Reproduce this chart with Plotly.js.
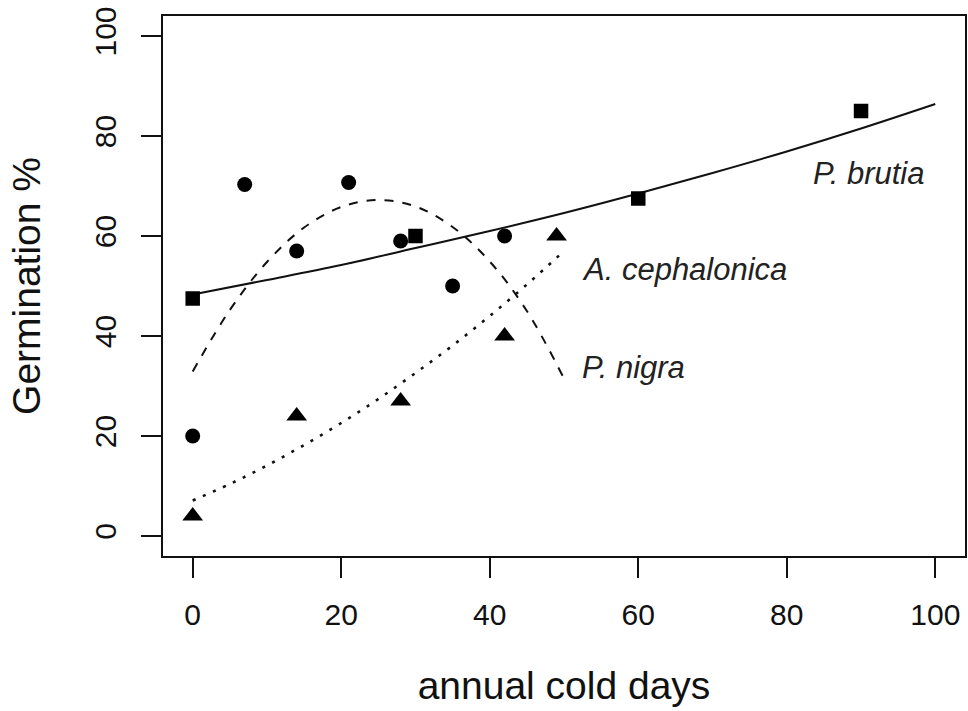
<!DOCTYPE html>
<html>
<head>
<meta charset="utf-8">
<script src="https://cdn.plot.ly/plotly-3.0.1.min.js"></script>
<style>html,body{margin:0;padding:0;background:#fff;}#chart{width:968px;height:711px;}</style>
</head>
<body>
<div id="chart"></div>
<script>
// Observed points
var brutiaX = [0, 30, 60, 90];
var brutiaY = [47.5, 60, 67.5, 85];
var nigraX = [0, 7, 14, 21, 28, 35, 42];
var nigraY = [20, 70.3, 57, 70.7, 59, 50, 60];
var cephX = [0, 14, 28, 42, 49];
var cephY = [4, 24, 27, 40, 60];

// Fitted curves
var brutiaFitX = [0, 10, 20, 30, 40, 50, 60, 70, 80, 90, 100];
var brutiaFitY = [48.3, 51.2, 54.2, 57.6, 61.0, 64.6, 68.5, 72.6, 76.9, 81.5, 86.4];
var nigraFitX = [0, 5, 10, 15, 20, 25, 30, 35, 40, 45, 50];
var nigraFitY = [32.9, 45.2, 54.8, 61.7, 65.8, 67.2, 65.9, 61.8, 54.9, 45.0, 31.5];
var cephFitX = [0, 5, 10, 15, 20, 25, 30, 35, 40, 45, 50];
var cephFitY = [7.1, 10.4, 14.1, 18.2, 22.6, 27.4, 32.6, 38.1, 44.0, 50.3, 57.0];

var tickVals = [0, 20, 40, 60, 80, 100];
var tickText = ["0", "20", "40", "60", "80", "100"];

var labels = [
  {text: "P. brutia", x: 83.2, y: 72.5},
  {text: "A. cephalonica", x: 52.2, y: 53.4},
  {text: "P. nigra", x: 52.2, y: 33.8}
];

var fontFam = "Liberation Sans, Arial, Helvetica, sans-serif";
var ink = "#111";

var traces = [
  {x: brutiaFitX, y: brutiaFitY, mode: "lines", line: {color: ink, width: 2, shape: "spline"}, hoverinfo: "skip"},
  {x: nigraFitX, y: nigraFitY, mode: "lines", line: {color: ink, width: 2, dash: "9px,9px", shape: "spline"}, hoverinfo: "skip"},
  {x: cephFitX, y: cephFitY, mode: "lines", line: {color: ink, width: 2.6, dash: "3px,8px", shape: "spline"}, hoverinfo: "skip"},
  {x: brutiaX, y: brutiaY, mode: "markers", marker: {symbol: "square", size: 14.5, color: "#000"}},
  {x: nigraX, y: nigraY, mode: "markers", marker: {symbol: "circle", size: 15, color: "#000"}},
  {x: cephX, y: cephY, mode: "markers", marker: {symbol: "triangle-up", size: 18, color: "#000"}}
];

var axisCommon = {
  range: [-4, 104],
  tickvals: tickVals,
  ticktext: tickText,
  ticks: "outside",
  ticklen: 20,
  tickwidth: 2,
  tickcolor: ink,
  showline: true,
  linewidth: 2,
  linecolor: ink,
  mirror: true,
  showgrid: false,
  zeroline: false,
  tickfont: {family: fontFam, size: 30, color: ink}
};

var layout = {
  width: 968,
  height: 711,
  margin: {l: 163, r: 3, t: 16, b: 155},
  paper_bgcolor: "#fff",
  plot_bgcolor: "#fff",
  showlegend: false,
  xaxis: Object.assign({}, axisCommon, {
    ticklabelstandoff: 11,
    title: {text: "annual cold days", font: {family: fontFam, size: 39, color: ink}, standoff: 42}
  }),
  yaxis: Object.assign({}, axisCommon, {
    tickangle: -90,
    ticklabelstandoff: 13,
    title: {text: "Germination %", font: {family: fontFam, size: 39, color: ink}, standoff: 36}
  }),
  annotations: labels.map(function (l) {
    return {
      text: "<i>" + l.text + "</i>", x: l.x, y: l.y, xref: "x", yref: "y",
      xanchor: "left", yanchor: "middle", showarrow: false,
      font: {family: fontFam, size: 31, color: "#222"}
    };
  })
};

Plotly.newPlot("chart", traces, layout, {displayModeBar: false, staticPlot: true});
</script>
</body>
</html>
